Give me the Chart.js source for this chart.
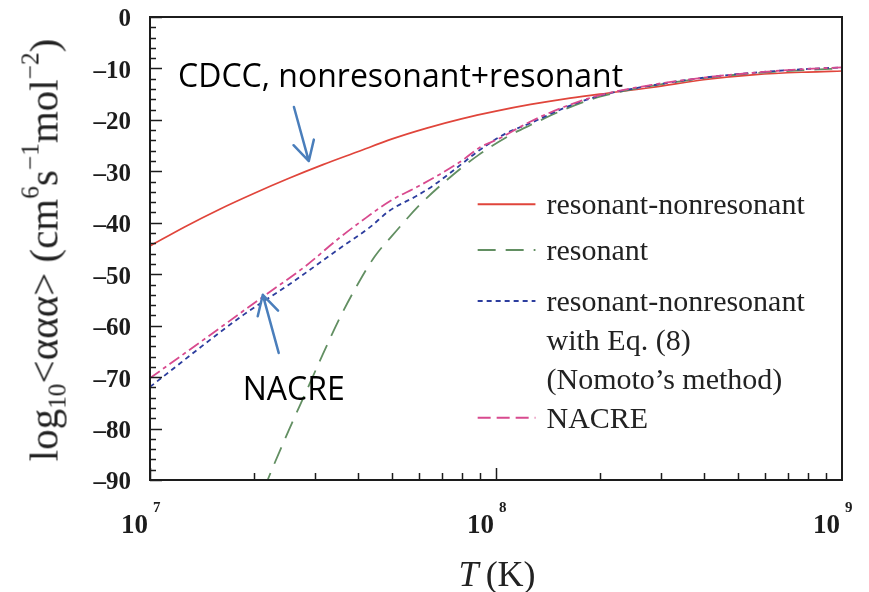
<!DOCTYPE html>
<html>
<head>
<meta charset="utf-8">
<script src="https://cdn.jsdelivr.net/npm/chart.js@4.4.1/dist/chart.umd.min.js"></script>
<style>
  body { margin: 0; background: #fff; }
  #wrap { position: relative; width: 869px; height: 592px; }
  #ytitle {
    position: absolute; left: 44px; top: 250px;
    transform: translate(-50%, -50%) rotate(-90deg);
    font: 41px "Liberation Serif", serif; color: #222; white-space: nowrap; line-height: 1;
  }
  #xtitle {
    position: absolute; left: 497px; top: 574px;
    transform: translate(-50%, -50%);
    font: 36px "Liberation Serif", serif; color: #222; white-space: nowrap; line-height: 1;
  }
  .sub { font-size: 62%; position: relative; top: 0.3em; }
  .sup { font-size: 62%; position: relative; top: -0.75em; }
</style>
</head>
<body>
<div id="wrap">
  <canvas id="rateChart" width="869" height="592"></canvas>
  <div id="ytitle">log<span class="sub">10</span>&lt;ααα&gt; (cm<span class="sup">6</span>s<span class="sup">−1</span>mol<span class="sup">−2</span>)</div>
  <div id="xtitle"><i>T</i>&#8201;(K)</div>
</div>
<script>
// log10 T and log10 <aaa>
const redLogT   = [7.0, 7.1, 7.2, 7.3, 7.4, 7.5, 7.6, 7.7, 7.8, 7.9, 8.0, 8.1, 8.2, 8.3, 8.45, 8.6, 8.75, 8.9, 9.0];
const redRate   = [-44.5, -40.8, -37.4, -34.3, -31.4, -28.7, -26.2, -23.7, -21.6, -19.8, -18.3, -17.0, -15.9, -15.0, -13.7, -12.2, -11.2, -10.7, -10.5];

const greenLogT = [7.30, 7.34, 7.40, 7.45, 7.50, 7.55, 7.60, 7.65, 7.70, 7.78, 7.87, 7.95, 8.04, 8.1, 8.2, 8.3, 8.45, 8.6, 8.75, 8.9, 9.0];
const greenRate = [-97, -90, -80.5, -73, -65.5, -58.3, -52, -46.5, -42.5, -36.5, -31.0, -26.8, -23.0, -21.0, -17.9, -15.5, -13.4, -11.9, -10.9, -10.3, -10.0];

const blueLogT  = [7.0, 7.27, 7.40, 7.548, 7.635, 7.693, 7.77, 7.822, 7.904, 7.952, 8.029, 8.097, 8.2, 8.3, 8.45, 8.6, 8.75, 8.9, 9.0];
const blueRate  = [-71.9, -57.9, -52.1, -45.0, -40.9, -37.6, -34.8, -32.6, -28.4, -25.9, -22.6, -20.7, -17.6, -15.3, -13.3, -11.8, -10.8, -10.1, -9.8];

const nacreLogT = [7.0, 7.17, 7.33, 7.45, 7.548, 7.625, 7.693, 7.77, 7.837, 7.904, 7.952, 8.01, 8.097, 8.2, 8.3, 8.45, 8.6, 8.75, 8.9, 9.0];
const nacreRate = [-70.2, -62.0, -54.2, -48.4, -42.9, -39.0, -35.8, -33.1, -30.6, -27.8, -25.4, -23.6, -20.4, -17.4, -15.2, -13.2, -11.8, -10.8, -10.1, -9.8];

const seriesNames = ['resonant-nonresonant', 'resonant', 'resonant-nonresonant', 'NACRE'];
const yTicks = [0, -10, -20, -30, -40, -50, -60, -70, -80, -90];
const yTickLabels = ['0', '–10', '–20', '–30', '–40', '–50', '–60', '–70', '–80', '–90'];
const xTicks = [1e7, 1e8, 1e9];
const xTickExp = ['7', '8', '9'];

const redColor = '#e0453b';
const greenColor = '#628f62';
const blueColor = '#2c3d9e';
const pinkColor = '#d84a8e';
const arrowColor = '#4a7ebb';

function pts(logT, rate) {
  return logT.map((t, i) => ({ x: Math.pow(10, t), y: rate[i] }));
}

// legend rows and annotations, placed in data space (log10 T, value)
const legendRows = [
  { color: redColor, dash: [], lines: ['resonant-nonresonant'], y: -36.4 },
  { color: greenColor, dash: [18, 10], lines: ['resonant'], y: -45.3 },
  { color: blueColor, dash: [5, 4], lines: ['resonant-nonresonant', 'with Eq. (8)', '(Nomoto’s method)'], y: -55.2 },
  { color: pinkColor, dash: [13, 6], lines: ['NACRE'], y: -77.9 }
];

const decor = {
  id: 'decor',
  afterDraw(chart) {
    const { ctx, chartArea: a, scales: { x, y } } = chart;
    const px = t => x.getPixelForValue(Math.pow(10, t));
    ctx.save();

    // frame
    ctx.strokeStyle = '#1c1c1c';
    ctx.lineWidth = 2;
    ctx.strokeRect(a.left, a.top, a.right - a.left, a.bottom - a.top);

    // y ticks (inward)
    ctx.lineWidth = 1.5;
    ctx.beginPath();
    for (let v = 0; v >= -90; v -= 2) {
      const py = Math.round(y.getPixelForValue(v)) + 0.5;
      const len = v % 10 === 0 ? 12 : 6;
      ctx.moveTo(a.left, py);
      ctx.lineTo(a.left + len, py);
    }
    // x ticks (inward)
    [1e7, 1e8].forEach(dec => {
      for (let m = 1; m <= 9; m++) {
        const xp = Math.round(x.getPixelForValue(dec * m)) + 0.5;
        const len = m === 1 ? 12 : 7;
        ctx.moveTo(xp, a.bottom);
        ctx.lineTo(xp, a.bottom - len);
      }
    });
    ctx.stroke();

    // y tick labels
    ctx.fillStyle = '#1c1c1c';
    ctx.font = 'bold 25px "Liberation Serif", serif';
    ctx.textAlign = 'right';
    ctx.textBaseline = 'middle';
    yTicks.forEach((v, i) => ctx.fillText(yTickLabels[i], a.left - 19, y.getPixelForValue(v) + 3));

    // x tick labels 10^n
    ctx.textBaseline = 'alphabetic';
    xTicks.forEach((v, i) => {
      const xp = x.getPixelForValue(v);
      ctx.font = 'bold 27px "Liberation Serif", serif';
      ctx.textAlign = 'right';
      ctx.fillText('10', xp - 2, a.bottom + 53);
      ctx.font = 'bold 15px "Liberation Serif", serif';
      ctx.textAlign = 'left';
      ctx.fillText(xTickExp[i], xp + 3, a.bottom + 32);
    });

    // legend
    ctx.font = '30px "Liberation Serif", serif';
    ctx.fillStyle = '#222';
    ctx.textAlign = 'left';
    ctx.textBaseline = 'middle';
    legendRows.forEach(r => {
      const py = y.getPixelForValue(r.y);
      ctx.strokeStyle = r.color;
      ctx.lineWidth = 2;
      ctx.setLineDash(r.dash);
      ctx.beginPath();
      ctx.moveTo(px(7.947), py);
      ctx.lineTo(px(8.114), py);
      ctx.stroke();
      ctx.setLineDash([]);
      r.lines.forEach((s, k) => ctx.fillText(s, px(8.146), py + 2 + k * 39));
    });

    // annotations
    ctx.fillStyle = '#000';
    ctx.font = '32px "Open Sans", sans-serif';
    ctx.textBaseline = 'alphabetic';
    ctx.fillText('CDCC, nonresonant+resonant', px(7.081), y.getPixelForValue(-13.6));
    ctx.fillText('NACRE', px(7.268), y.getPixelForValue(-74.5));

    const arrow = (t0, v0, t1, v1) => {
      const x0 = px(t0), y0 = y.getPixelForValue(v0);
      const x1 = px(t1), y1 = y.getPixelForValue(v1);
      const ang = Math.atan2(y1 - y0, x1 - x0);
      ctx.strokeStyle = arrowColor;
      ctx.lineWidth = 2.5;
      ctx.lineCap = 'round';
      ctx.beginPath();
      ctx.moveTo(x0, y0);
      ctx.lineTo(x1, y1);
      [0.5, -0.5].forEach(d => {
        ctx.moveTo(x1, y1);
        ctx.lineTo(x1 - 22 * Math.cos(ang + d), y1 - 22 * Math.sin(ang + d));
      });
      ctx.stroke();
    };
    arrow(7.416, -17.5, 7.459, -28.0);
    arrow(7.372, -65.3, 7.326, -54.0);

    ctx.restore();
  }
};

const common = { pointRadius: 0, borderWidth: 1.8, fill: false, cubicInterpolationMode: 'monotone' };

new Chart(document.getElementById('rateChart'), {
  type: 'line',
  data: {
    datasets: [
      { ...common, label: seriesNames[3], data: pts(nacreLogT, nacreRate), borderColor: pinkColor, borderDash: [12, 4, 4, 4] },
      { ...common, label: seriesNames[2], data: pts(blueLogT, blueRate), borderColor: blueColor, borderDash: [5, 4] },
      { ...common, label: seriesNames[1], data: pts(greenLogT, greenRate), borderColor: greenColor, borderDash: [18, 10] },
      { ...common, label: seriesNames[0], data: pts(redLogT, redRate), borderColor: redColor, borderWidth: 1.7 }
    ]
  },
  options: {
    responsive: false,
    animation: false,
    layout: { padding: { left: 150, right: 27, top: 17, bottom: 112 } },
    plugins: { legend: { display: false }, tooltip: { enabled: false } },
    scales: {
      x: { type: 'logarithmic', min: 1e7, max: 1e9, display: false },
      y: { type: 'linear', min: -90, max: 0, display: false }
    }
  },
  plugins: [decor]
});
</script>
</body>
</html>
